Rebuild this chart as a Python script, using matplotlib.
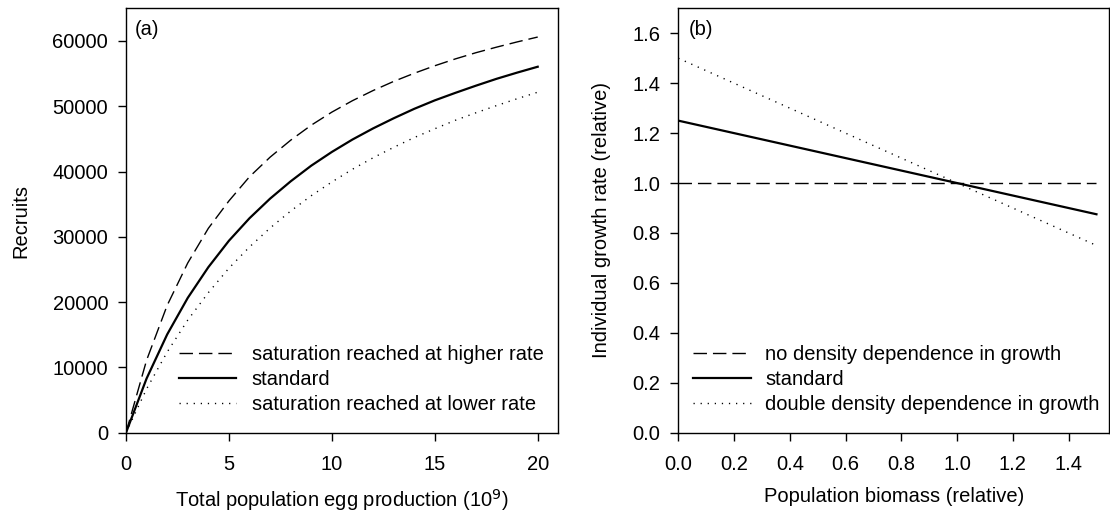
import matplotlib
matplotlib.use("Agg")
import matplotlib.pyplot as plt
from matplotlib.ticker import FormatStrFormatter

plt.rcParams['font.family'] = ['Liberation Sans', 'DejaVu Sans']
plt.rcParams['font.size'] = 14.5

# Panel (a) data
eggs = [0, 1, 2, 3, 4, 5, 6, 7, 8, 9, 10, 11, 12, 13, 14, 15, 16, 17, 18, 19, 20]
recruits_higher = [0, 11100, 19500, 26000, 31300, 35500, 39200, 42200, 44800, 47100, 49100,
                   50850, 52400, 53800, 55050, 56200, 57250, 58200, 59050, 59850, 60600]
recruits_standard = [0, 8300, 15050, 20650, 25350, 29400, 32850, 35850, 38500, 40900, 43000,
                     44900, 46600, 48150, 49600, 50900, 52050, 53150, 54200, 55150, 56050]
recruits_lower = [0, 6700, 12350, 17250, 21450, 25200, 28450, 31350, 33950, 36300, 38400,
                  40350, 42100, 43700, 45200, 46550, 47850, 49000, 50100, 51150, 52150]
labels_a = ["saturation reached at higher rate", "standard", "saturation reached at lower rate"]

# Panel (b) data
biomass = [0.0, 1.5]
growth_none = [1.0, 1.0]
growth_standard = [1.25, 0.875]
growth_double = [1.5, 0.75]
labels_b = ["no density dependence in growth", "standard", "double density dependence in growth"]

W, H = 1110, 519
fig = plt.figure(figsize=(W / 100, H / 100), dpi=100)

def frac(l, r, t, b):
    return [l / W, 1 - b / H, (r - l) / W, (b - t) / H]

ax1 = fig.add_axes(frac(126, 558.3, 8.3, 432.7))
ax2 = fig.add_axes(frac(678.3, 1109, 8.3, 432.7))

DASH = (9.7, 4.3)
DOT = (0.9, 4.2)
FS = 14.5

def style(ax):
    for s in ax.spines.values():
        s.set_linewidth(1.0)
    ax.tick_params(direction='out', length=5.8, width=1.0, labelsize=FS,
                   top=False, right=False)
    ax.tick_params(axis='x', pad=10.5)
    ax.tick_params(axis='y', pad=7.0)

# Panel (a)
ax1.plot(eggs, recruits_higher, color='black', lw=1.0, dashes=DASH, label=labels_a[0])
ax1.plot(eggs, recruits_standard, color='black', lw=1.6, label=labels_a[1])
ax1.plot(eggs, recruits_lower, color='black', lw=1.0, dashes=DOT, label=labels_a[2])
ax1.set_xlim(0, 21)
ax1.set_ylim(0, 65000)
ax1.set_xticks([0, 5, 10, 15, 20])
ax1.set_yticks([0, 10000, 20000, 30000, 40000, 50000, 60000])
ax1.set_xlabel("Total population egg production (10$^9$)", fontsize=FS)
ax1.set_ylabel("Recruits", fontsize=FS)
ax1.xaxis.set_label_coords(0.5, -0.128)
ax1.yaxis.set_label_coords(-0.222, 0.5)
ax1.text(0.02, 0.972, "(a)", transform=ax1.transAxes, ha='left', va='top', fontsize=FS)
style(ax1)
ax1.legend(loc='upper left', bbox_to_anchor=(0.1217, 0.2075), frameon=False,
           borderpad=0, borderaxespad=0, handlelength=2.83, handletextpad=0.8,
           labelspacing=0.3, fontsize=FS)

# Panel (b)
ax2.plot(biomass, growth_none, color='black', lw=1.0, dashes=DASH, label=labels_b[0])
ax2.plot(biomass, growth_standard, color='black', lw=1.6, label=labels_b[1])
ax2.plot(biomass, growth_double, color='black', lw=1.0, dashes=DOT, label=labels_b[2])
ax2.set_xlim(0, 1.545)
ax2.set_ylim(0, 1.7)
ax2.set_xticks([0.0, 0.2, 0.4, 0.6, 0.8, 1.0, 1.2, 1.4])
ax2.set_yticks([0.0, 0.2, 0.4, 0.6, 0.8, 1.0, 1.2, 1.4, 1.6])
ax2.xaxis.set_major_formatter(FormatStrFormatter('%.1f'))
ax2.yaxis.set_major_formatter(FormatStrFormatter('%.1f'))
ax2.set_xlabel("Population biomass (relative)", fontsize=FS)
ax2.set_ylabel("Individual growth rate (relative)", fontsize=FS)
ax2.xaxis.set_label_coords(0.5, -0.128)
ax2.yaxis.set_label_coords(-0.156, 0.5)
ax2.text(0.024, 0.972, "(b)", transform=ax2.transAxes, ha='left', va='top', fontsize=FS)
style(ax2)
ax2.legend(loc='upper left', bbox_to_anchor=(0.034, 0.2075), frameon=False,
           borderpad=0, borderaxespad=0, handlelength=2.9, handletextpad=0.7,
           labelspacing=0.3, fontsize=FS)

fig.savefig("out.png", dpi=100)
